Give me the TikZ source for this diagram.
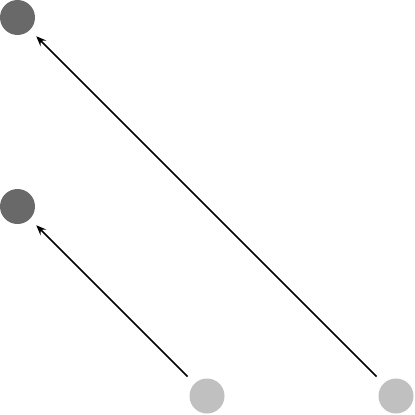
\documentclass[tikz,border=0pt]{standalone}
\usepackage{xcolor}
\usetikzlibrary{arrows.meta,positioning}
\definecolor{darkdot}{HTML}{696969}
\definecolor{lightdot}{HTML}{C0C0C0}

\begin{document}
\begin{tikzpicture}[x=1pt, y=-1pt,
    dot/.style={circle, minimum size=35pt, inner sep=0pt, outer sep=0pt},
    edge/.style={-{Stealth[length=10pt, width=8pt, inset=3.5pt]}, line width=1.6pt, shorten <=10pt, shorten >=9pt}]
    \useasboundingbox (0,0) rectangle (415,415);

    % Targets
    \node[dot, fill=darkdot] (t1) at (17.5,17.5) {};
    \node[dot, fill=darkdot] (t2) at (17.5,206.5) {};

    % Sources
    \node[dot, fill=lightdot] (s1) at (207,396) {};
    \node[dot, fill=lightdot] (s2) at (396,396) {};

    % Edges
    \draw[edge] (s1) -- (t2);
    \draw[edge] (s2) -- (t1);

\end{tikzpicture}
\end{document}
